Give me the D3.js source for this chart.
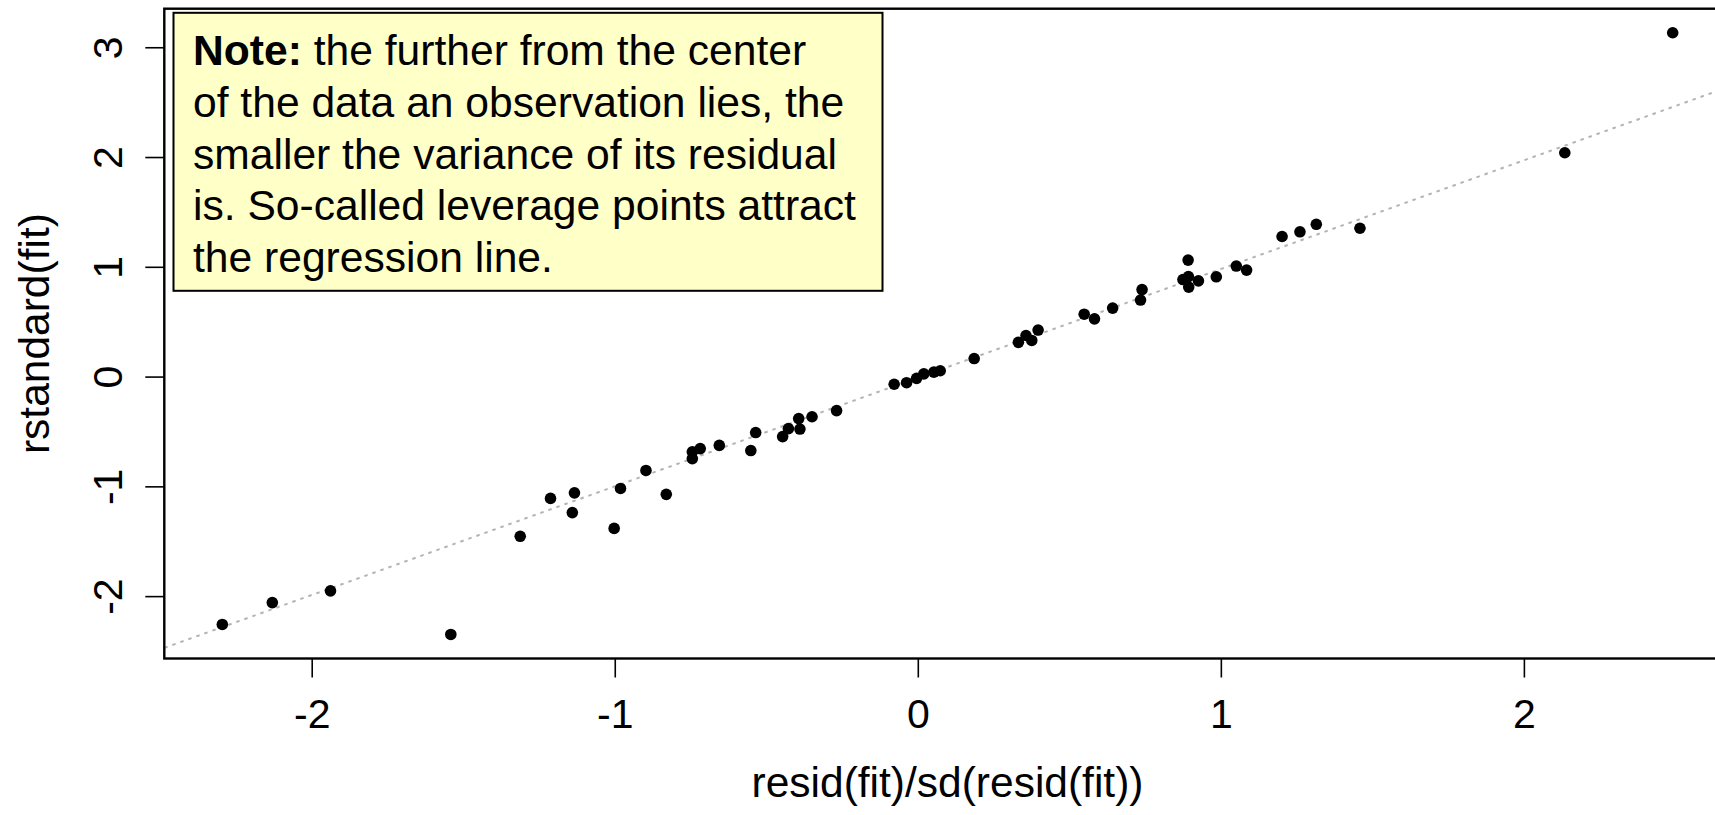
<!DOCTYPE html>
<html>
<head>
<meta charset="utf-8">
<script src="https://cdn.jsdelivr.net/npm/d3@7"></script>
<style>
  html, body { margin: 0; padding: 0; background: #ffffff; }
  svg { display: block; font-family: "Liberation Sans", Arial, Helvetica, sans-serif; }
</style>
</head>
<body>
<svg id="chart" width="1715" height="815"></svg>
<script>
// Standardized residuals (x) against rstandard(fit) (y), one entry per observation
const residScaled = [
  -2.295, -2.130, -1.938, -1.541, -1.312, -1.212, -1.133, -1.140, -1.002, -0.981,
  -0.897, -0.830, -0.744, -0.744, -0.718, -0.655, -0.551, -0.535, -0.446, -0.427,
  -0.389, -0.393, -0.349, -0.268, -0.078, -0.037, -0.004, 0.020, 0.053, 0.074,
  0.186, 0.332, 0.357, 0.376, 0.397, 0.549, 0.583, 0.643, 0.735, 0.740,
  0.892, 0.875, 0.893, 0.894, 0.926, 0.985, 1.051, 1.085, 1.202, 1.261,
  1.315, 1.459, 2.135, 2.491
];
const rstandardFit = [
  -2.258, -2.059, -1.952, -2.349, -1.455, -1.110, -1.059, -1.239, -1.383, -1.019,
  -0.855, -1.073, -0.685, -0.747, -0.656, -0.627, -0.674, -0.510, -0.547, -0.474,
  -0.478, -0.383, -0.366, -0.310, -0.070, -0.056, -0.016, 0.025, 0.041, 0.053,
  0.164, 0.312, 0.374, 0.329, 0.424, 0.568, 0.526, 0.624, 0.697, 0.793,
  1.061, 0.884, 0.911, 0.815, 0.872, 0.909, 1.007, 0.970, 1.276, 1.319,
  1.387, 1.351, 2.039, 3.132
];

// Regression line of rstandard on the scaled residuals: intercept, slope
const lineCoef = [-0.01, 0.99];

const xTicks = [-2, -1, 0, 1, 2];
const yTicks = [-2, -1, 0, 1, 2, 3];

const xTitle = "resid(fit)/sd(resid(fit))";
const yTitle = "rstandard(fit)";

// Annotation: first line starts with a bold lead-in
const noteLead = "Note:";
const noteLines = [
  " the further from the center",
  "of the data an observation lies, the",
  "smaller the variance of its residual",
  "is. So-called leverage points attract",
  "the regression line."
];

// ---- layout ----
const W = 1715, H = 815;
const plot = { left: 164.3, right: 1730.7, top: 8.7, bottom: 658.5 };

// Axis limits padded by 4% of the data range on each side
function padded(values) {
  const [lo, hi] = d3.extent(values);
  const pad = (hi - lo) * 0.04;
  return [lo - pad, hi + pad];
}

const x = d3.scaleLinear().domain(padded(residScaled)).range([plot.left, plot.right]);
const y = d3.scaleLinear().domain(padded(rstandardFit)).range([plot.bottom, plot.top]);

const svg = d3.select("#chart");
svg.append("rect").attr("width", W).attr("height", H).attr("fill", "#ffffff");

svg.append("defs").append("clipPath").attr("id", "plot-clip")
  .append("rect")
  .attr("x", plot.left).attr("y", plot.top)
  .attr("width", plot.right - plot.left).attr("height", plot.bottom - plot.top);

// Fitted line, dotted grey
const [x0, x1] = x.domain();
svg.append("line")
  .attr("clip-path", "url(#plot-clip)")
  .attr("x1", x(x0)).attr("y1", y(lineCoef[0] + lineCoef[1] * x0))
  .attr("x2", x(x1)).attr("y2", y(lineCoef[0] + lineCoef[1] * x1))
  .attr("stroke", "#b4b4b4")
  .attr("stroke-width", 2)
  .attr("stroke-dasharray", "3.5,5");

// Observations
svg.append("g")
  .selectAll("circle")
  .data(residScaled.map((v, i) => [v, rstandardFit[i]]))
  .join("circle")
  .attr("cx", d => x(d[0]))
  .attr("cy", d => y(d[1]))
  .attr("r", 5.8)
  .attr("fill", "#000000");

// Axes
const fontSize = 41;
const gx = svg.append("g")
  .attr("transform", `translate(0,${plot.bottom})`)
  .call(d3.axisBottom(x).tickValues(xTicks).tickSize(19).tickSizeOuter(0).tickPadding(21)
    .tickFormat(d3.format("d")));
gx.select(".domain").remove();
gx.selectAll(".tick line").attr("stroke", "#000").attr("stroke-width", 1.6);
gx.selectAll(".tick text")
  .attr("font-size", fontSize)
  .attr("font-family", "Liberation Sans, Arial, sans-serif")
  .attr("fill", "#000")
  .text(d => d < 0 ? "-" + Math.abs(d) : String(d));

const gy = svg.append("g")
  .attr("transform", `translate(${plot.left},0)`)
  .call(d3.axisLeft(y).tickValues(yTicks).tickSize(19).tickSizeOuter(0));
gy.select(".domain").remove();
gy.selectAll(".tick line").attr("stroke", "#000").attr("stroke-width", 1.6);
gy.selectAll(".tick text")
  .attr("font-size", fontSize)
  .attr("font-family", "Liberation Sans, Arial, sans-serif")
  .attr("fill", "#000")
  .attr("text-anchor", "middle")
  .attr("x", 0)
  .attr("y", -42)
  .attr("dy", null)
  .attr("transform", "rotate(-90)")
  .text(d => d < 0 ? "-" + Math.abs(d) : String(d));

// Plot frame
svg.append("rect")
  .attr("x", plot.left).attr("y", plot.top)
  .attr("width", plot.right - plot.left).attr("height", plot.bottom - plot.top)
  .attr("fill", "none")
  .attr("stroke", "#000")
  .attr("stroke-width", 2.4);

// Axis titles, centred on the plot region
svg.append("text")
  .attr("x", (plot.left + plot.right) / 2)
  .attr("y", 797)
  .attr("text-anchor", "middle")
  .attr("font-size", 42.5)
  .attr("fill", "#000")
  .text(xTitle);

svg.append("text")
  .attr("transform", `translate(49,${(plot.top + plot.bottom) / 2}) rotate(-90)`)
  .attr("text-anchor", "middle")
  .attr("font-size", 42.5)
  .attr("fill", "#000")
  .text(yTitle);

// Note box
const note = svg.append("g");
note.append("rect")
  .attr("x", 173.5).attr("y", 12.8)
  .attr("width", 709).attr("height", 278)
  .attr("fill", "#ffffc8")
  .attr("stroke", "#000")
  .attr("stroke-width", 2);

const lineGap = 51.8;
noteLines.forEach((ln, i) => {
  const t = note.append("text")
    .attr("x", 193)
    .attr("y", 65 + i * lineGap)
    .attr("font-size", 42.6)
    .attr("fill", "#000");
  if (i === 0) {
    t.append("tspan").attr("font-weight", "bold").text(noteLead);
    t.append("tspan").attr("xml:space", "preserve").style("white-space", "pre").text(ln);
  } else {
    t.text(ln);
  }
});
</script>
</body>
</html>
